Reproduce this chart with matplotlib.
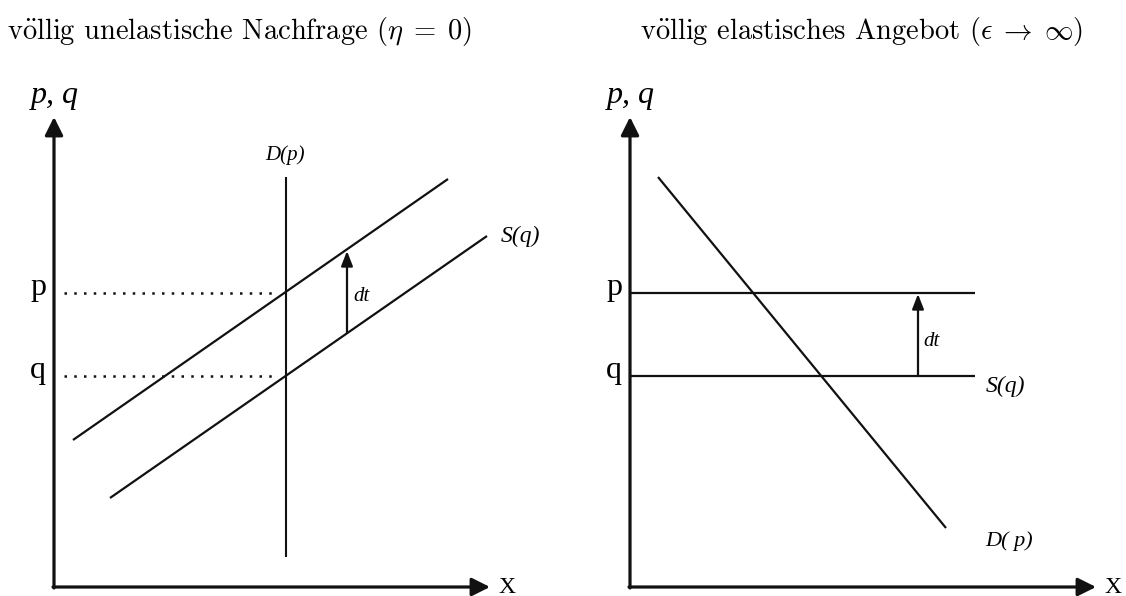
import matplotlib
matplotlib.use("Agg")
import matplotlib.pyplot as plt

plt.rcParams['mathtext.fontset'] = 'cm'

# Schaubild in Pixelkoordinaten (x nach rechts, y nach unten)
W, H = 1126, 596

titel = [r'v$\ddot{\mathrm{o}}$llig unelastische Nachfrage ($\eta\;=\;0$)',
         r'v$\ddot{\mathrm{o}}$llig elastisches Angebot ($\epsilon\;\rightarrow\;\infty$)']
titel_x = [240, 861]

# Achsen: Ursprung, Spitze y-Achse, Spitze x-Achse
ursprung = [(54, 587), (630, 587)]
y_spitze = [117, 117]
x_spitze = [490, 1096]

# Niveaus p und q
p_niveau = 293
q_niveau = 376

# linkes Bild
nachfrage_links = [(286, 177), (286, 557)]
angebot_oben = [(73, 440), (448, 179)]
angebot_unten = [(110, 498), (487, 236)]
dt_links = [(347, 333), (347, 251)]

# rechtes Bild
angebot_p = [(630, 293), (975, 293)]
angebot_q = [(630, 376), (975, 376)]
nachfrage_rechts = [(658, 177), (946, 528)]
dt_rechts = [(918, 376), (918, 294)]

serif = ['Liberation Serif', 'DejaVu Serif']

fig = plt.figure(figsize=(W / 100, H / 100), dpi=100)
ax = fig.add_axes([0, 0, 1, 1])
ax.set_xlim(0, W)
ax.set_ylim(H, 0)
ax.axis('off')


def pfeil(a, b, lw, hl, hw):
    ax.annotate('', xy=b, xytext=a,
                arrowprops=dict(arrowstyle='-|>,head_length=%s,head_width=%s' % (hl, hw),
                                lw=lw, color='#111111', shrinkA=0, shrinkB=0))


def linie(pts, **kw):
    ax.plot([pts[0][0], pts[1][0]], [pts[0][1], pts[1][1]], color='#111111',
            solid_capstyle='butt', **kw)


for i in range(2):
    ax.text(titel_x[i], 31, titel[i], fontsize=20.5, family='cmr10',
            ha='center', va='center')
    ox, oy = ursprung[i]
    pfeil((ox, oy + 1), (ox, y_spitze[i]), 2.3, 1.1, 0.55)
    pfeil((ox - 1, oy), (x_spitze[i], oy), 2.3, 1.1, 0.55)
    ax.text(ox + 1, y_spitze[i] - 14, 'p, q', fontsize=23, family=serif,
            style='italic', ha='center', va='baseline')
    ax.text(x_spitze[i] + 8, 593, 'X', fontsize=17, family=serif,
            ha='left', va='baseline')
    ax.text(ox - 16, p_niveau + 2, 'p', fontsize=23, family=serif,
            ha='center', va='baseline')
    ax.text(ox - 16, q_niveau + 2, 'q', fontsize=23, family=serif,
            ha='center', va='baseline')

# links
linie(nachfrage_links, lw=1.5)
linie(angebot_oben, lw=1.6)
linie(angebot_unten, lw=1.6)
ax.plot([64, 276], [p_niveau, p_niveau], color='#111111', lw=1.8,
        linestyle=(0, (1, 2.9)))
ax.plot([64, 276], [q_niveau, q_niveau], color='#111111', lw=1.8,
        linestyle=(0, (1, 2.9)))
pfeil(dt_links[0], dt_links[1], 1.6, 0.9, 0.35)
ax.text(353, 301, 'dt', fontsize=15, family=serif, style='italic',
        ha='left', va='baseline')
ax.text(285, 160, 'D(p)', fontsize=15, family=serif, style='italic',
        ha='center', va='baseline')
ax.text(520, 242, 'S(q)', fontsize=17, family=serif, style='italic',
        ha='center', va='baseline')

# rechts
linie(angebot_p, lw=1.6)
linie(angebot_q, lw=1.6)
linie(nachfrage_rechts, lw=1.6)
pfeil(dt_rechts[0], dt_rechts[1], 1.6, 0.9, 0.35)
ax.text(923, 346, 'dt', fontsize=15, family=serif, style='italic',
        ha='left', va='baseline')
ax.text(1005, 392, 'S(q)', fontsize=17, family=serif, style='italic',
        ha='center', va='baseline')
ax.text(1009, 546, 'D( p)', fontsize=16, family=serif, style='italic',
        ha='center', va='baseline')

fig.savefig('out.png', dpi=100)
